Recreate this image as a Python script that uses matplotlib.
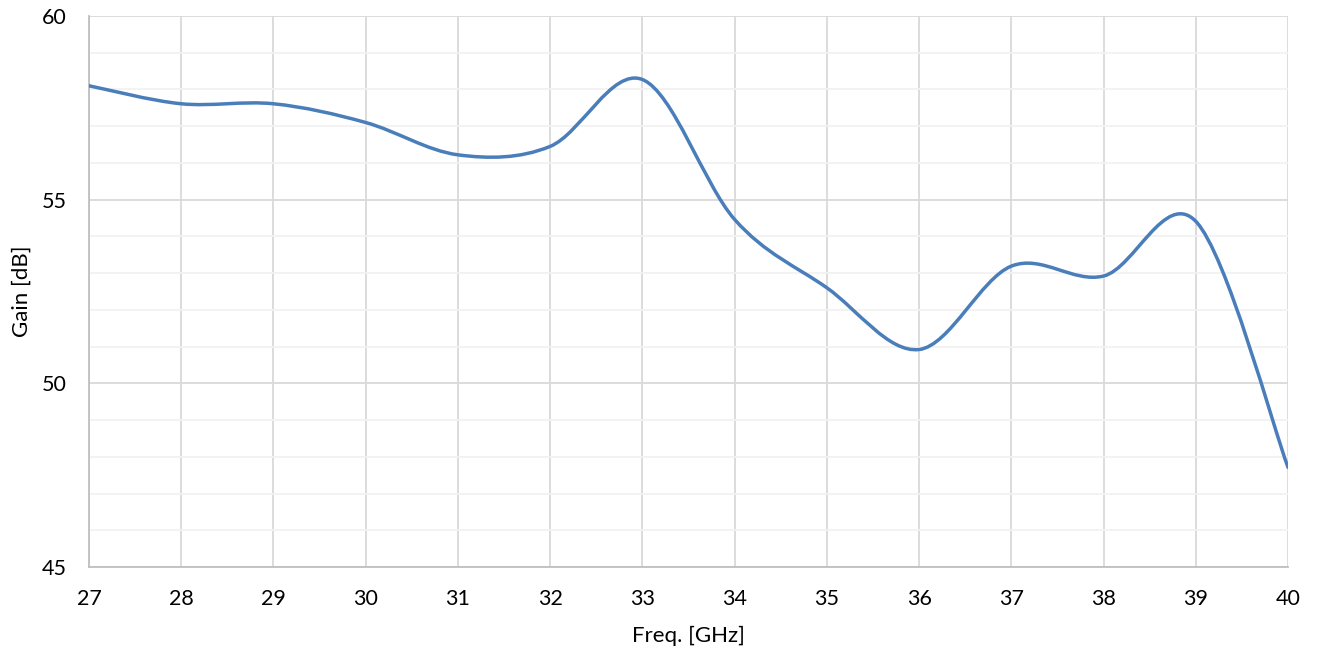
import matplotlib.pyplot as plt
import numpy as np
from matplotlib.path import Path
from matplotlib.patches import PathPatch

plt.rcParams['font.family'] = ['Lato', 'DejaVu Sans']

# dados
freq = [27, 28, 29, 30, 31, 32, 33, 34, 35, 36, 37, 38, 39, 40]
gain = [58.10, 57.61, 57.61, 57.10, 56.22, 56.45, 58.27, 54.46, 52.60, 50.92, 53.19, 52.92, 54.41, 47.71]

x_ticks = list(range(27, 41))
y_ticks = [45, 50, 55, 60]

fig = plt.figure(figsize=(13.17, 6.55), dpi=100)
ax = fig.add_axes([0.0676, 0.1344, 0.9104, 0.8412])

# curva suavizada estilo Excel (bezier cubica)
px = np.array(freq, dtype=float)
py = np.array(gain, dtype=float)
verts = [(px[0], py[0])]
codes = [Path.MOVETO]
n = len(px)
for i in range(n - 1):
    i0 = max(i - 1, 0)
    i3 = min(i + 2, n - 1)
    c1 = (px[i] + (px[i + 1] - px[i0]) / 6, py[i] + (py[i + 1] - py[i0]) / 6)
    c2 = (px[i + 1] - (px[i3] - px[i]) / 6, py[i + 1] - (py[i3] - py[i]) / 6)
    verts += [c1, c2, (px[i + 1], py[i + 1])]
    codes += [Path.CURVE4] * 3
ax.add_patch(PathPatch(Path(verts, codes), facecolor='none', edgecolor='#4a7ebb',
                       linewidth=2.5, capstyle='round', zorder=3))

ax.set_xlim(27, 40)
ax.set_ylim(45, 60)
ax.set_xticks(x_ticks)
ax.set_yticks(y_ticks)
ax.set_yticks(np.arange(45, 61, 1), minor=True)
ax.grid(True, which='major', color='#d9d9d9', linewidth=1.3)
ax.grid(True, which='minor', axis='y', color='#f2f2f2', linewidth=1.3)
ax.set_axisbelow(True)
ax.tick_params(which='both', length=0, labelsize=15.5, colors='black')
ax.tick_params(axis='x', pad=16)
ax.tick_params(axis='y', pad=16)

for s in ['top', 'right']:
    ax.spines[s].set_visible(False)
for s in ['left', 'bottom']:
    ax.spines[s].set_color('#bfbfbf')
    ax.spines[s].set_linewidth(1.3)

ax.set_xlabel('Freq. [GHz]', fontsize=16, labelpad=12)
ax.set_ylabel('Gain [dB]', fontsize=16, labelpad=7)

fig.savefig('out.png', dpi=100)
